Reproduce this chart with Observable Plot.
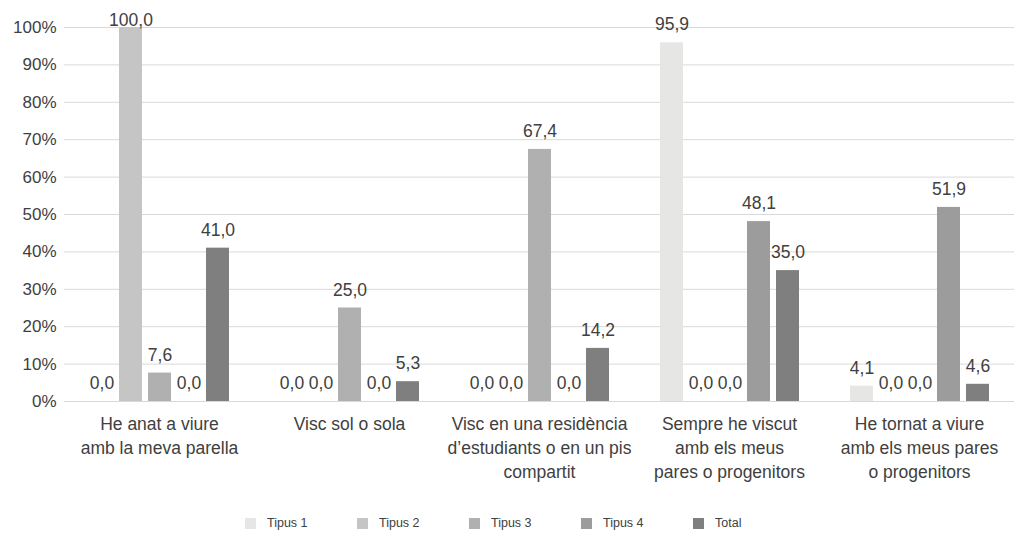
<!DOCTYPE html>
<html>
<head>
<meta charset="utf-8">
<script src="https://cdn.jsdelivr.net/npm/d3@7"></script>
<script src="https://cdn.jsdelivr.net/npm/@observablehq/plot@0.6"></script>
<style>
  body { margin: 0; background: #fff; font-family: "Liberation Sans", Arial, Helvetica, sans-serif; }
  #wrap { position: relative; width: 1018px; height: 533px; }
  #legend { position: absolute; left: 245px; top: 516px; display: flex; font-size: 12.5px; color: #404040; }
  #legend .item { width: 112px; display: flex; align-items: center; }
  #legend .sw { width: 11px; height: 11px; margin-right: 11px; }
</style>
</head>
<body>
<div id="wrap"><div id="chart"></div><div id="legend"></div></div>
<script>
const categories = [
  "He anat a viure amb la meva parella",
  "Visc sol o sola",
  "Visc en una residència d’estudiants o en un pis compartit",
  "Sempre he viscut amb els meus pares o progenitors",
  "He tornat a viure amb els meus pares o progenitors"
];
const categoryLabels = [
  "He anat a viure\namb la meva parella",
  "Visc sol o sola",
  "Visc en una residència\nd’estudiants o en un pis\ncompartit",
  "Sempre he viscut\namb els meus\npares o progenitors",
  "He tornat a viure\namb els meus pares\no progenitors"
];
const seriesNames = ["Tipus 1", "Tipus 2", "Tipus 3", "Tipus 4", "Total"];
const tipus1 = [0, 0, 0, 95.9, 4.1];
const tipus2 = [100, 0, 0, 0, 0];
const tipus3 = [7.6, 25, 67.4, 0, 0];
const tipus4 = [0, 0, 0, 48.1, 51.9];
const total  = [41, 5.3, 14.2, 35, 4.6];
const seriesColors = ["#e6e6e5", "#c5c5c5", "#b0b0b0", "#9c9c9c", "#7f7f7f"];
const yTicks = [0, 10, 20, 30, 40, 50, 60, 70, 80, 90, 100];

const seriesValues = [tipus1, tipus2, tipus3, tipus4, total];
const data = [];
categories.forEach((c, i) => {
  seriesNames.forEach((s, j) => data.push({category: c, series: s, value: seriesValues[j][i]}));
});
const labelOf = new Map(categories.map((c, i) => [c, categoryLabels[i]]));
const fmt = v => v.toFixed(1).replace(".", ",");

const chart = Plot.plot({
  width: 1018,
  height: 490,
  marginLeft: 62,
  marginRight: 3,
  marginTop: 27,
  marginBottom: 89,
  style: {fontFamily: '"Liberation Sans", Arial, Helvetica, sans-serif', fontSize: "17px", color: "#404040", background: "#fff"},
  fx: {domain: categories, padding: 0},
  x: {domain: seriesNames, axis: null, paddingInner: 0.22, paddingOuter: 0.8},
  y: {domain: [0, 100], axis: null},
  color: {domain: seriesNames, range: seriesColors},
  marks: [
    Plot.gridY(yTicks, {stroke: "#d9d9d9", strokeOpacity: 1, strokeWidth: 1}),
    Plot.axisY(yTicks, {tickSize: 0, tickPadding: 8, tickFormat: d => d + "%", fontSize: 17, label: null, fill: "#404040"}),
    Plot.axisFx({anchor: "bottom", tickSize: 0, tickPadding: 12, tickFormat: d => labelOf.get(d), fontSize: 17.5, lineHeight: 1.35, label: null, fill: "#404040"}),
    Plot.barY(data, {fx: "category", x: "series", y: "value", fill: "series"}),
    Plot.text(data, {fx: "category", x: "series", y: d => Math.min(d.value, 97), text: d => fmt(d.value), dy: -18, fontSize: 17.5, fill: "#404040"})
  ]
});
document.getElementById("chart").appendChild(chart);

const legend = document.getElementById("legend");
seriesNames.forEach((s, i) => {
  const item = document.createElement("div");
  item.className = "item";
  const sw = document.createElement("span");
  sw.className = "sw";
  sw.style.background = seriesColors[i];
  const t = document.createElement("span");
  t.textContent = s;
  item.appendChild(sw);
  item.appendChild(t);
  legend.appendChild(item);
});
</script>
</body>
</html>
